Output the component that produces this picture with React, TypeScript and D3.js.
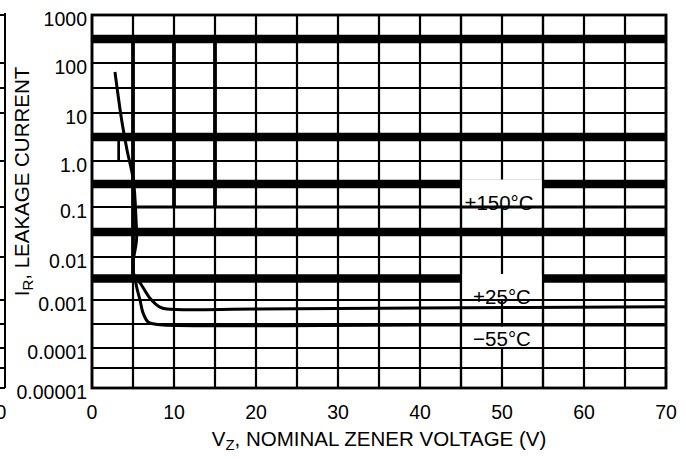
import React, { useEffect, useRef } from 'react'
import * as d3 from 'd3'

const W = 686
const H = 459

// nominal zener voltage (V)
const voltTicks = [0, 10, 20, 30, 40, 50, 60, 70]
const voltGrid = [0, 5, 10, 15, 20, 25, 30, 35, 40, 45, 50, 55, 60, 65, 70]

// leakage current decades
const currentTicks = [0.00001, 0.0001, 0.001, 0.01, 0.1, 1, 10, 100, 1000]
const currentLabels = ['0.00001', '0.0001', '0.001', '0.01', '0.1', '1.0', '10', '100', '1000']
const thinRows = [0.00003162, 0.0003162, 31.62]
const heavyRows = [316.2, 3.162, 0.3162, 0.03162, 0.003162]
const heavyCols = [
  { v: 5, from: 316.2, to: 0.003162 },
  { v: 10, from: 316.2, to: 0.1 },
  { v: 15, from: 316.2, to: 0.1 },
]
const stubs = [{ v: 3.25, from: 3.162, to: 1.0 }]

// curves, [volts, current]
const trunk = [
  [2.8, 66], [3.62, 7.1], [4.27, 1.7], [5.04, 0.39], [5.37, 0.055],
  [5.43, 0.022], [5.02, 0.0077], [5.04, 0.0045], [5.24, 0.0032],
]
const hot150 = [[5.4, 0.1], [70, 0.1]]
const room25 = [
  [5.24, 0.0032], [5.85, 0.0025], [7.07, 0.0011], [8.29, 0.00071],
  [9.15, 0.00065], [20, 0.00065], [40, 0.00068], [70, 0.00072],
]
const cold55 = [
  [5.24, 0.0032], [5.5, 0.0018], [5.85, 0.001], [6.22, 0.00054],
  [6.83, 0.00035], [7.44, 0.00032], [8.66, 0.0003], [40, 0.0003], [70, 0.0003],
]

const tempLabels = [
  { text: '+150°C', top: 0.3162, pad: -4.5, bottom: 0.1, base: 0.1, dx: -3, dy: 3 },
  { text: '+25°C', top: 0.003162, pad: -4.5, bottom: 0.001, base: 0.001, dx: 0, dy: 3.5 },
  { text: '\u221255°C', top: 0.0003162, pad: 2.5, bottom: 0.0001, base: 0.0001, dx: 0, dy: -2 },
]

const FONT = '"Liberation Sans", Arial, Helvetica, sans-serif'

export default function App() {
  const svgRef = useRef<SVGSVGElement>(null)

  useEffect(() => {
    const svg = d3.select(svgRef.current)
    svg.selectAll('*').remove()

    const x = d3.scaleLinear().domain([0, 70]).range([92, 666])
    // scanned grid isn't evenly spaced, so one range stop per decade
    const y = d3.scaleLog().domain(currentTicks).range([388, 348, 300, 257, 207, 161, 113, 63, 15])
    const top = y(1000), bottom = y(0.00001), left = x(0), right = x(70)

    svg.append('rect').attr('width', W).attr('height', H).attr('fill', '#fff')

    const grid = svg.append('g').attr('stroke', '#000')
    grid.selectAll('line.v').data(voltGrid).join('line')
      .attr('x1', d => x(d)).attr('x2', d => x(d))
      .attr('y1', top).attr('y2', bottom)
      .attr('stroke-width', 2.2)
    const rows = [...currentTicks, ...thinRows]
    grid.selectAll('line.h').data(rows).join('line')
      .attr('x1', left).attr('x2', right)
      .attr('y1', d => y(d)).attr('y2', d => y(d))
      .attr('stroke-width', 2.2)
    grid.append('g').selectAll('line').data(heavyRows).join('line')
      .attr('x1', left).attr('x2', right)
      .attr('y1', d => y(d)).attr('y2', d => y(d))
      .attr('stroke-width', 8.5)
    grid.append('g').selectAll('line').data(heavyCols).join('line')
      .attr('x1', d => x(d.v)).attr('x2', d => x(d.v))
      .attr('y1', d => y(d.from)).attr('y2', d => y(d.to))
      .attr('stroke-width', 3.8)
    grid.append('g').selectAll('line').data(stubs).join('line')
      .attr('x1', d => x(d.v)).attr('x2', d => x(d.v))
      .attr('y1', d => y(d.from)).attr('y2', d => y(d.to))
      .attr('stroke-width', 2.7)

    // temperature tags sit in white boxes between 45 V and 55 V
    const tags = svg.append('g')
    tags.selectAll('rect').data(tempLabels).join('rect')
      .attr('x', x(45) + 1).attr('width', x(55) - x(45) - 2)
      .attr('y', d => y(d.top) + d.pad)
      .attr('height', d => y(d.bottom) - y(d.top) - d.pad)
      .attr('fill', '#fff')
    tags.selectAll('text').data(tempLabels).join('text')
      .attr('x', d => x(50) + d.dx).attr('y', d => y(d.base) + d.dy)
      .attr('text-anchor', 'middle')
      .attr('font-family', FONT).attr('font-size', 20.5)
      .text(d => d.text)

    // lines that run over the tags
    const over = svg.append('g').attr('stroke', '#000').attr('stroke-width', 2.2)
    over.selectAll('line.h').data(rows).join('line')
      .attr('x1', left).attr('x2', right)
      .attr('y1', d => y(d)).attr('y2', d => y(d))
    over.selectAll('line.v').data([45, 55]).join('line')
      .attr('x1', d => x(d)).attr('x2', d => x(d))
      .attr('y1', top).attr('y2', bottom)

    const line = d3.line<number[]>()
      .x(d => x(d[0])).y(d => y(d[1]))
      .curve(d3.curveCatmullRom.alpha(0.5))
    svg.append('g').attr('fill', 'none').attr('stroke', '#000').attr('stroke-width', 3)
      .selectAll('path').data([trunk, hot150, room25, cold55]).join('path')
      .attr('d', d => line(d))

    svg.append('rect')
      .attr('x', left).attr('y', top)
      .attr('width', right - left).attr('height', bottom - top)
      .attr('fill', 'none').attr('stroke', '#000').attr('stroke-width', 2.8)

    // edge of the neighbouring figure
    const edge = svg.append('g').attr('stroke', '#000').attr('stroke-width', 2)
    edge.append('line').attr('x1', 5).attr('x2', 5).attr('y1', top - 2).attr('y2', bottom)
    edge.selectAll('line.s').data(rows).join('line')
      .attr('x1', 0).attr('x2', 5)
      .attr('y1', d => y(d)).attr('y2', d => y(d))

    const labels = svg.append('g').attr('font-family', FONT).attr('font-size', 19.5).attr('fill', '#000')
    labels.selectAll('text.y').data(currentTicks).join('text')
      .attr('x', 87).attr('y', d => y(d) + 3.5)
      .attr('dominant-baseline', 'central')
      .attr('text-anchor', 'end')
      .text((d, i) => currentLabels[i])
    labels.selectAll('text.x').data(voltTicks).join('text')
      .attr('x', d => x(d)).attr('y', 419)
      .attr('text-anchor', 'middle')
      .text(d => d)
    labels.append('text').attr('x', 1).attr('y', 419).attr('text-anchor', 'middle').text('0')

    const xt = labels.append('text')
      .attr('x', (left + right) / 2).attr('y', 446)
      .attr('font-size', 20.5)
      .attr('text-anchor', 'middle')
    xt.append('tspan').text('V')
    xt.append('tspan').attr('font-size', 15).attr('dy', 4).text('Z')
    xt.append('tspan').attr('dy', -4).text(', NOMINAL ZENER VOLTAGE (V)')

    const yt = labels.append('text')
      .attr('transform', `translate(29,${(y(100) + y(0.001)) / 2}) rotate(-90)`)
      .attr('font-size', 20.5)
      .attr('text-anchor', 'middle')
    yt.append('tspan').text('I')
    yt.append('tspan').attr('font-size', 15).attr('dy', 4).text('R')
    yt.append('tspan').attr('dy', -4).text(', LEAKAGE CURRENT')
  }, [])

  return (
    <svg ref={svgRef} width={W} height={H}
      style={{ position: 'absolute', left: 0, top: 0, display: 'block' }} />
  )
}
